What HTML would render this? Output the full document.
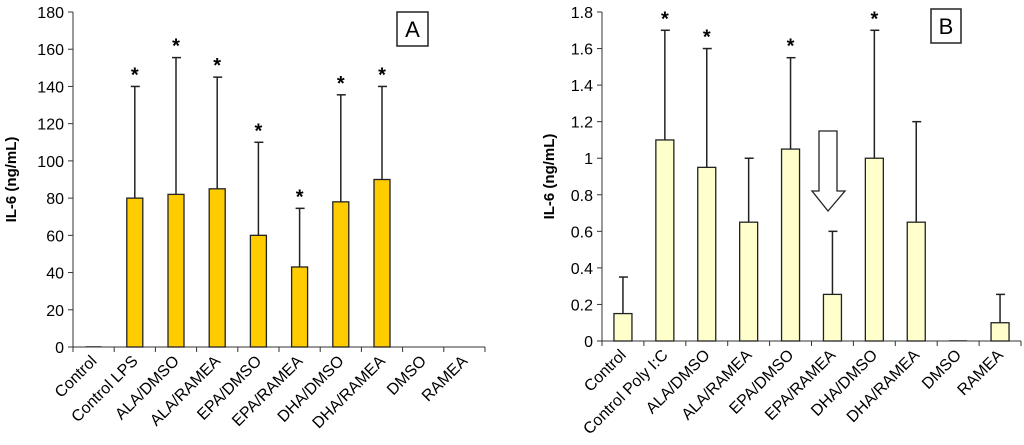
<!DOCTYPE html>
<html><head><meta charset="utf-8"><style>
html,body{margin:0;padding:0;background:#fff;}
svg{display:block;font-family:"Liberation Sans",Arial,sans-serif;}
</style></head><body>
<svg id="chart" width="1024" height="445" viewBox="0 0 1024 445"></svg>
<script>
const categoriesA = ["Control","Control LPS","ALA/DMSO","ALA/RAMEA","EPA/DMSO","EPA/RAMEA","DHA/DMSO","DHA/RAMEA","DMSO","RAMEA"];
const valuesA = [0,80,82,85,60,43,78,90,0,0];
const errTopA = [0,140,155.5,145,110,74.5,135.5,140,0,0];
const starsA = [false,true,true,true,true,true,true,true,false,false];
const zeroMarkA = [true,false,false,false,false,false,false,false,false,false];
const ticksA = [0,20,40,60,80,100,120,140,160,180];

const categoriesB = ["Control","Control Poly I:C","ALA/DMSO","ALA/RAMEA","EPA/DMSO","EPA/RAMEA","DHA/DMSO","DHA/RAMEA","DMSO","RAMEA"];
const valuesB = [0.15,1.1,0.95,0.65,1.05,0.255,1.0,0.65,0,0.1];
const errTopB = [0.35,1.7,1.6,1.0,1.55,0.6,1.7,1.2,0,0.255];
const starsB = [false,true,true,false,true,false,true,false,false,false];
const zeroMarkB = [false,false,false,false,false,false,false,false,true,false];
const ticksB = [0,0.2,0.4,0.6,0.8,1,1.2,1.4,1.6,1.8];
const tickLabelsB = ["0","0.2","0.4","0.6","0.8","1","1.2","1.4","1.6","1.8"];

const NS="http://www.w3.org/2000/svg";
const svg=document.getElementById('chart');
function mk(tag,attrs,parent){const e=document.createElementNS(NS,tag);for(const k in attrs)e.setAttribute(k,attrs[k]);(parent||svg).appendChild(e);return e;}

function panel(cfg){
  const g=mk('g',{});
  
  
  const x0=cfg.x0,x1=cfg.x1,yb=cfg.yb,yt=cfg.yt,max=cfg.max,n=cfg.cats.length;
  const cw=(x1-x0)/n;
  const y=v=>yb-(v/max)*(yb-yt);
  const xc=i=>x0+cw*(i+0.5);
  const ya=mk('line',{x1:x0,y1:yt,x2:x0,y2:yb,stroke:'#333','stroke-width':1},g);
  
  
  cfg.ticks.forEach((t,k)=>{
    mk('line',{x1:x0-5,y1:y(t),x2:x0,y2:y(t),stroke:'#333'},g);
    const tl=mk('text',{x:x0-9,y:y(t)+6,'text-anchor':'end','font-size':16,fill:'#000'},g);
    tl.textContent=cfg.tickLabels?cfg.tickLabels[k]:String(t);
    
    
  });
  const xa=mk('line',{x1:x0,y1:yb,x2:x1,y2:yb,stroke:'#333'},g);
  
  
  for(let i=0;i<=n;i++) mk('line',{x1:x0+cw*i,y1:yb,x2:x0+cw*i,y2:yb+5,stroke:'#333'},g);
  const yl=mk('text',{x:cfg.ylx,y:(yt+yb)/2,'text-anchor':'middle','font-size':15,'font-weight':'bold',transform:`rotate(-90 ${cfg.ylx} ${(yt+yb)/2})`},g);
  yl.textContent='IL-6 (ng/mL)';
  
  
  cfg.cats.forEach((c,i)=>{
    const v=cfg.vals[i],cx=xc(i),bw=cfg.bw;
    const e=cfg.err[i];
    if(e>v){
      const el=mk('line',{x1:cx,y1:y(e),x2:cx,y2:y(v),stroke:'#222','stroke-width':1.5},g);
      
      
      mk('line',{x1:cx-4,y1:y(e),x2:cx+5,y2:y(e),stroke:'#222','stroke-width':1.5},g);
    }
    if(v>0){
      const h=yb-y(v);
      const r=mk('rect',{x:cx-bw/2,y:yb-h,width:bw,height:h,fill:cfg.fill,stroke:'#222','stroke-width':1.3},g);
      
      
    } else if(cfg.zero[i]){
      const z=mk('line',{x1:cx-bw/2,y1:yb-0.5,x2:cx+bw/2,y2:yb-0.5,stroke:'#555','stroke-width':1},g);
      
      
    }
    if(cfg.stars[i]){
      const s=mk('text',{x:cx,y:y(e)-5,'text-anchor':'middle','font-size':20,'font-weight':'bold'},g);
      s.textContent='*';
      
      
    }
    const lx=cx+4,ly=yb+15;
    const t=mk('text',{x:lx,y:ly,'text-anchor':'end','font-size':16,transform:`rotate(-45 ${lx} ${ly})`},g);
    t.textContent=c;
    
    
  });
  const b=mk('rect',{x:cfg.box[0],y:cfg.box[1],width:cfg.box[2],height:cfg.box[3],fill:'#fff',stroke:'#222','stroke-width':1.5},g);
  
  
  const bt=mk('text',{x:cfg.box[0]+cfg.box[2]/2,y:cfg.box[1]+cfg.box[3]/2+8,'text-anchor':'middle','font-size':22},g);
  bt.textContent=cfg.label;
  
  
  return {g,y,xc};
}
panel({name:'panel-a',x0:73,x1:485,yb:347,yt:12,max:180,cats:categoriesA,vals:valuesA,err:errTopA,stars:starsA,zero:zeroMarkA,ticks:ticksA,bw:16,fill:'#ffcc00',ylx:16,box:[397,12,31,34],label:'A'});
const pB=panel({name:'panel-b',x0:602,x1:1021,yb:341,yt:12,max:1.8,cats:categoriesB,vals:valuesB,err:errTopB,stars:starsB,zero:zeroMarkB,ticks:ticksB,tickLabels:tickLabelsB,bw:18,fill:'#ffffcc',ylx:554,box:[931,9,30,34],label:'B'});
const ar=mk('path',{d:'M819 131 L837 131 L837 191 L845 191 L828 211 L812 191 L819 191 Z',fill:'#fff',stroke:'#222','stroke-width':1.3},pB.g);


</script>
</body></html>
